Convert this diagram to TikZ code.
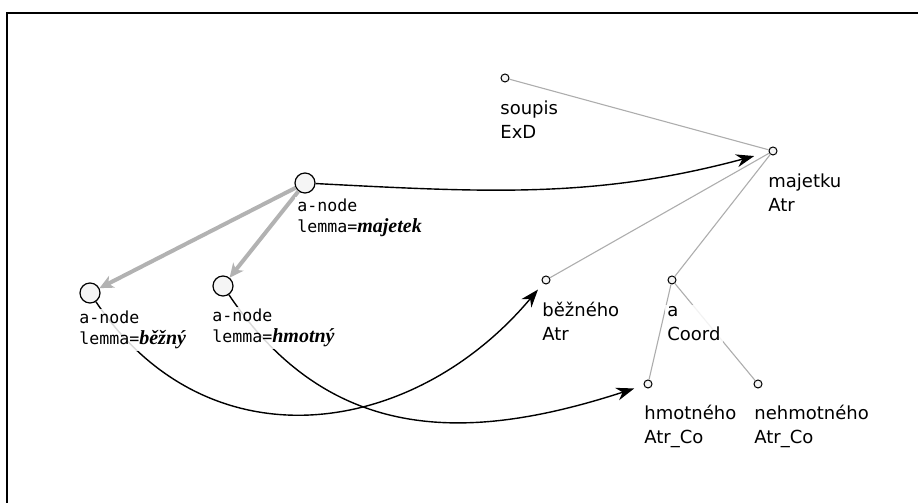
\documentclass[tikz,border=0pt]{standalone}
\usepackage{fontspec}
\newfontfamily\treefont{DejaVu Sans}
\newfontfamily\anodefont{DejaVu Sans Mono}
\newfontfamily\lemmafont{Liberation Serif}
\usetikzlibrary{arrows.meta}
\tikzset{
	tree node/.style={circle, draw=black, fill=black!4, line width=0.5pt, minimum size=4pt, inner sep=0pt},
	tree label/.style={anchor=base west, align=left, inner sep=1pt, fill=white, fill opacity=0.85, text opacity=1,
		font=\treefont\fontsize{9}{12}\selectfont},
	a node/.style={circle, draw=black, fill=black!4, line width=0.6pt, minimum size=10pt, inner sep=0pt},
	a label/.style={anchor=base west, align=left, inner sep=1pt, fill=white, fill opacity=0.85, text opacity=1,
		font=\anodefont\fontsize{8.3}{10.5}\selectfont},
	tree edge/.style={draw=black!32, line width=0.55pt},
	child arrow/.style={draw=black!30, line width=2pt, -{Stealth[length=7pt,width=6.5pt,inset=2pt]}},
	link arrow/.style={draw=black, line width=0.7pt, -{Stealth[length=9pt,width=6.5pt]}}
}
\newcommand{\lem}[1]{{\lemmafont\fontsize{10}{10.5}\selectfont\bfseries\itshape #1}}

\begin{document}
\begin{tikzpicture}[x=0.5pt,y=0.5pt]
	\useasboundingbox (0,0) rectangle (918,503);
	\draw[line width=1pt] (7,0) -- (7,490) -- (918,490);
	% analytical tree
	\node[tree node] at (505,425) (soupis) {};
	\node[tree node] at (773,352) (majetku) {};
	\node[tree node] at (546,223) (bezneho) {};
	\node[tree node] at (672,223) (coord) {};
	\node[tree node] at (648,119) (hmotneho) {};
	\node[tree node] at (758,119) (nehmotneho) {};
	\path (soupis) edge[tree edge] (majetku);
	\path (majetku) edge[tree edge] (bezneho);
	\path (majetku) edge[tree edge] (coord);
	\path (coord) edge[tree edge] (hmotneho);
	\path (coord) edge[tree edge] (nehmotneho);
	% a-nodes
	\node[a node] at (305,320) (a_maj) {};
	\node[a node] at (90,210) (a_bez) {};
	\node[a node] at (223,217) (a_hmot) {};
	\path (a_maj) edge[child arrow] (a_bez);
	\path (a_maj) edge[child arrow] (a_hmot);
	\draw[link arrow, shorten >=7.5pt] (a_maj) to[out=-3, in=195] (majetku);
	\draw[link arrow, shorten >=4pt] (a_bez) to[out=-56, in=-130, looseness=1.15] (bezneho);
	\draw[link arrow, shorten >=5pt] (a_hmot) to[out=-56, in=198, looseness=1.1] (hmotneho);
	% labels (anchored at the baseline of the second line)
	\node[tree label] at (498,364) (soupis_l) {soupis\\ExD};
	\node[tree label] at (766,291) (majetku_l) {majetku\\Atr};
	\node[tree label] at (540,162) (bezneho_l) {běžného\\Atr};
	\node[tree label] at (665,162) (coord_l) {a\\Coord};
	\node[tree label] at (642,59) (hmotneho_l) {hmotného\\Atr\_Co};
	\node[tree label] at (752,59) (nehmotneho_l) {nehmotného\\Atr\_Co};
	\node[a label] at (295,270) (a_maj_l) {a-node\\lemma=\lem{majetek}};
	\node[a label] at (77,158) (a_bez_l) {a-node\\lemma=\lem{běžný}};
	\node[a label] at (210,160) (a_hmot_l) {a-node\\lemma=\lem{hmotný}};
\end{tikzpicture}
\end{document}
